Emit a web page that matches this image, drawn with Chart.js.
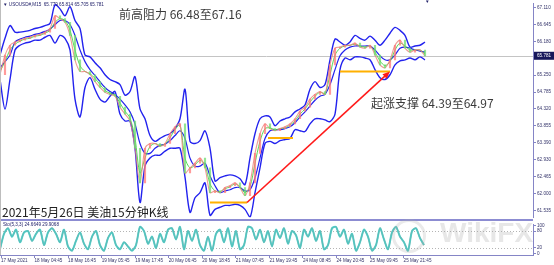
<!DOCTYPE html>
<html>
<head>
<meta charset="utf-8">
<script src="https://cdn.jsdelivr.net/npm/chart.js@4.4.1/dist/chart.umd.min.js"></script>
<style>
html, body { margin: 0; padding: 0; background: #fff; }
#wrap { position: relative; width: 554px; height: 265px; overflow: hidden; }
#main { position: absolute; left: 0; top: 0; }
#sub { position: absolute; left: 0; top: 221px; }
.note { position: absolute; font-family: "Noto Sans CJK SC", "Noto Sans", sans-serif; font-size: 12px; line-height: 1; color: #3a3a3a; white-space: nowrap; }
.mark { position: absolute; font-family: "Liberation Sans", sans-serif; font-weight: bold; color: rgba(170,170,170,0.28); white-space: nowrap; line-height: 1; }
</style>
</head>
<body>
<div id="wrap">
  <canvas id="main" width="554" height="221"></canvas>
  <canvas id="sub" width="554" height="44"></canvas>
  <div class="note" style="left:119px;top:8px;">前高阻力 66.48至67.16</div>
  <div class="note" style="left:371px;top:97px;">起涨支撑 64.39至64.97</div>
  <div class="note" style="left:2px;top:206px;color:#222;">2021年5月26日 美油15分钟K线</div>
  <div class="mark" style="left:392px;top:219px;width:28px;height:28px;border:3px solid rgba(170,170,170,0.25);border-radius:50%;"></div>
  <div class="mark" style="left:440px;top:219px;font-size:28px;">WikiFX</div>
</div>
<script>
// M15 oil, sampled every ~7 bars
const upper = [65.80,66.26,66.61,66.43,66.43,66.45,66.48,66.53,66.56,66.61,
  66.67,67.18,67.07,66.88,67.13,66.75,66.53,65.80,65.75,65.59,
  65.45,65.26,65.13,65.07,64.99,64.70,64.80,65.21,64.32,64.05,
  63.59,63.43,63.51,63.59,63.64,63.78,64.05,64.86,63.43,63.37,
  63.45,63.72,63.24,62.34,62.43,62.48,62.51,62.48,62.40,62.24,
  62.97,63.64,64.05,64.13,64.10,63.86,63.99,64.05,64.10,64.24,
  64.32,64.43,64.86,65.07,64.91,64.99,65.67,66.24,66.16,66.07,
  66.16,66.34,66.26,66.21,66.32,66.21,66.07,66.21,66.40,66.56,
  66.48,66.34,66.02,66.05,66.07,66.16];
const middle = [65.45,65.62,65.80,66.16,66.24,66.29,66.32,66.37,66.40,66.45,
  66.51,66.64,66.75,66.75,66.64,66.34,65.94,65.62,65.40,65.24,
  65.07,64.91,64.80,64.72,64.59,64.43,64.24,63.91,63.37,63.10,
  63.10,63.24,63.32,63.35,63.45,63.59,63.72,63.51,62.97,62.75,
  62.75,62.83,62.48,62.21,62.02,62.07,62.10,62.16,62.16,62.07,
  62.10,62.43,62.97,63.51,63.72,63.75,63.75,63.78,63.83,63.94,
  64.10,64.24,64.40,64.56,64.67,64.72,64.99,65.40,65.78,65.94,
  66.02,66.05,66.05,66.05,66.05,65.94,65.78,65.67,65.67,65.80,
  65.99,66.02,65.99,65.94,65.91,65.88];
const lower = [65.13,64.32,65.13,65.94,66.07,66.13,66.16,66.21,66.21,66.29,
  66.34,66.13,66.34,66.26,65.94,64.59,64.10,64.91,65.18,64.86,
  64.59,64.51,64.67,64.80,64.18,63.99,63.99,63.24,61.75,62.75,
  62.97,63.05,63.05,63.16,63.24,63.24,63.24,62.45,61.48,61.88,
  62.02,62.29,61.40,61.56,61.62,61.67,61.67,61.70,61.67,61.56,
  61.34,62.02,62.70,63.37,63.43,63.37,63.45,63.48,63.51,63.75,
  63.72,63.70,63.91,64.05,64.05,64.02,63.97,64.18,65.40,65.72,
  65.67,65.75,65.75,65.72,65.67,65.40,65.18,65.13,65.26,65.53,
  65.64,65.67,65.72,65.67,65.75,65.67];
const close = [65.26,65.80,66.07,66.16,66.21,66.26,66.29,66.34,66.37,66.43,
  66.53,66.88,66.80,66.70,66.34,65.67,65.35,65.35,65.26,65.07,
  64.91,64.78,64.72,64.67,64.37,64.18,63.99,63.24,62.29,63.24,
  63.37,63.37,63.29,63.37,63.64,63.83,63.91,62.56,62.70,62.83,
  62.97,62.70,62.02,62.07,62.02,62.16,62.21,62.29,62.16,61.94,
  62.29,63.10,63.64,63.91,63.78,63.72,63.78,63.83,63.91,64.05,
  64.26,64.37,64.59,64.72,64.80,64.72,65.53,65.99,66.02,66.07,
  66.07,66.13,66.02,65.99,66.07,65.80,65.53,65.45,65.67,66.07,
  66.21,65.99,65.88,65.94,65.94,65.78];
const fastMa = [65.35,65.62,65.94,66.10,66.18,66.24,66.26,66.32,66.34,66.40,
  66.48,66.70,66.80,66.75,66.48,65.94,65.51,65.35,65.29,65.16,
  64.99,64.83,64.75,64.70,64.48,64.26,64.07,63.51,62.56,62.97,
  63.29,63.37,63.32,63.35,63.53,63.75,63.88,62.97,62.70,62.78,
  62.91,62.78,62.26,62.07,62.05,62.13,62.18,62.26,62.18,62.02,
  62.18,62.83,63.43,63.78,63.80,63.75,63.78,63.80,63.88,63.99,
  64.18,64.32,64.51,64.67,64.78,64.75,65.26,65.80,65.99,66.05,
  66.07,66.10,66.05,66.02,66.05,65.88,65.64,65.51,65.62,65.94,
  66.13,66.05,65.94,65.94,65.94,65.83];
const stochK = [15,70,90,60,85,40,75,80,45,70,
  85,30,75,90,70,40,85,25,10,45,
  75,35,15,60,80,30,10,55,75,30,
  15,40,25,10,30,95,80,35,60,20,
  70,40,85,90,50,95,15,80,45,85,
  30,10,60,10,70,85,40,90,25,80,
  15,30,95,90,50,85,40,80,25,85,
  55,90,35,80,65,20,85,60,90,45,
  80,15,30,90,95,60,85,35,70,10,
  40,85,60,10,30,90,50,15,75,95,
  60,40,10,80,90,55,30];

const priceTicks = [67.110, 66.645, 66.180, 65.715, 65.250, 64.785, 64.320, 63.855, 63.390, 62.930, 62.465, 62.000, 61.535];
const timeLabels = ['17 May 2021','18 May 04:45','18 May 16:45','19 May 05:45','19 May 17:45','20 May 06:45',
  '20 May 18:45','21 May 07:45','21 May 19:45','24 May 08:45','24 May 20:45','25 May 09:45','25 May 21:45'];
const stochTicks = [100, 80, 20, 0];
const lastPrice = 65.781;

// annotations, in sample / price units
const supports = [[42, 49.4, 61.75], [53.6, 58.6, 63.52], [68, 78, 65.35]];
const arrow = [[49.4, 61.75], [78, 65.35]];

const X_MAX = 106.6;       // samples across the plot
const STOCH_STEP = 0.8;    // stoch sampled a bit finer
const T0 = 0.2, T_STEP = 6.71;
const AXIS = '#8585c6';
const LBL = '#34346a';
const tiny = { family: 'Liberation Sans', size: 4.6 };

const pts = arr => arr.map((v, i) => ({ x: i, y: v }));
const line = (arr, color, w) => ({ type: 'line', data: pts(arr), borderColor: color, borderWidth: w, pointRadius: 0, tension: 0.3 });

const mainOverlay = {
  id: 'mainOverlay',
  beforeDatasetsDraw(chart) {
    const { ctx, chartArea: a, scales: { y } } = chart;
    const py = Math.round(y.getPixelForValue(lastPrice)) + 0.5;
    ctx.save();
    ctx.strokeStyle = '#c4c4c4';
    ctx.lineWidth = 1;
    ctx.beginPath(); ctx.moveTo(a.left, py); ctx.lineTo(a.right, py); ctx.stroke();
    ctx.restore();
  },
  afterDatasetsDraw(chart) {
    const { ctx, chartArea: a, scales: { x, y } } = chart;
    ctx.save();
    ctx.beginPath(); ctx.rect(a.left, a.top, a.right - a.left, a.bottom - a.top); ctx.clip();
    ctx.strokeStyle = '#ffb000';
    ctx.lineWidth = 2;
    supports.forEach(s => {
      const py = y.getPixelForValue(s[2]);
      ctx.beginPath(); ctx.moveTo(x.getPixelForValue(s[0]), py); ctx.lineTo(x.getPixelForValue(s[1]), py); ctx.stroke();
    });
    const x0 = x.getPixelForValue(arrow[0][0]), y0 = y.getPixelForValue(arrow[0][1]);
    const x1 = x.getPixelForValue(arrow[1][0]), y1 = y.getPixelForValue(arrow[1][1]);
    const ang = Math.atan2(y1 - y0, x1 - x0);
    ctx.strokeStyle = '#ff1a1a';
    ctx.fillStyle = '#ff1a1a';
    ctx.lineWidth = 1.6;
    ctx.beginPath(); ctx.moveTo(x0, y0); ctx.lineTo(x1 - 4 * Math.cos(ang), y1 - 4 * Math.sin(ang)); ctx.stroke();
    ctx.beginPath();
    ctx.moveTo(x1, y1);
    ctx.lineTo(x1 - 8 * Math.cos(ang - 0.4), y1 - 8 * Math.sin(ang - 0.4));
    ctx.lineTo(x1 - 8 * Math.cos(ang + 0.4), y1 - 8 * Math.sin(ang + 0.4));
    ctx.closePath(); ctx.fill();
    ctx.restore();
  },
  afterDraw(chart) {
    const { ctx, chartArea: a, scales: { y } } = chart;
    ctx.save();
    ctx.fillStyle = '#8c8cd2';
    ctx.fillRect(0, 219, a.right, 2);
    ctx.fillStyle = '#bdbdbd';
    ctx.fillRect(0, 0, 1, 221);
    const py = y.getPixelForValue(lastPrice);
    ctx.fillStyle = '#16165a';
    ctx.fillRect(a.right + 1, py - 4, 20, 8);
    ctx.fillStyle = '#fff';
    ctx.font = '4.6px "Liberation Sans"';
    ctx.textBaseline = 'middle';
    ctx.fillText(lastPrice.toFixed(3), a.right + 4, py);
    ctx.fillStyle = '#22226a';
    ctx.fillText('▼ USOUSD#,M15  65.779 65.814 65.705 65.781', 3, 5);
    ctx.fillText('▼', 425, 2);
    ctx.restore();
  }
};

new Chart(document.getElementById('main'), {
  type: 'line',
  data: {
    datasets: [
      {
        type: 'bar',
        data: close.map((c, i) => ({ x: i, y: [i ? close[i - 1] : c, c] })),
        backgroundColor: c => (c.raw && c.raw.y[1] >= c.raw.y[0]) ? 'rgba(255,120,120,0.75)' : 'rgba(110,220,110,0.75)',
        barThickness: 1.5
      },
      line(close, 'rgba(232,130,120,0.8)', 1.1),
      line(fastMa, 'rgba(60,210,60,0.85)', 1),
      line(upper, '#2222ee', 1.4),
      line(middle, '#2222ee', 1.2),
      line(lower, '#2222ee', 1.4)
    ]
  },
  options: {
    responsive: false,
    animation: false,
    events: [],
    layout: { padding: { top: 3, bottom: 1, left: 0, right: 0 } },
    plugins: { legend: { display: false }, tooltip: { enabled: false } },
    scales: {
      x: { type: 'linear', min: 0, max: X_MAX, display: false, offset: false },
      y: {
        position: 'right', min: 61.345, max: 67.21,
        afterFit: s => { s.width = 21; },
        afterBuildTicks: s => { s.ticks = priceTicks.map(v => ({ value: v })); },
        ticks: { font: tiny, color: LBL, padding: 1, callback: v => v.toFixed(3) },
        grid: { drawOnChartArea: false, tickLength: 3, color: AXIS },
        border: { color: AXIS }
      }
    }
  },
  plugins: [mainOverlay]
});

const subOverlay = {
  id: 'subOverlay',
  beforeDatasetsDraw(chart) {
    const { ctx, chartArea: a, scales: { y } } = chart;
    ctx.save();
    ctx.strokeStyle = '#b4b4b4';
    ctx.lineWidth = 1;
    ctx.setLineDash([1, 2]);
    [80, 20].forEach(v => {
      const py = Math.round(y.getPixelForValue(v)) + 0.5;
      ctx.beginPath(); ctx.moveTo(a.left, py); ctx.lineTo(a.right, py); ctx.stroke();
    });
    ctx.restore();
  },
  afterDraw(chart) {
    const { ctx } = chart;
    ctx.save();
    ctx.fillStyle = '#bdbdbd';
    ctx.fillRect(0, 0, 1, 34);
    ctx.fillStyle = '#22226a';
    ctx.font = '4.6px "Liberation Sans"';
    ctx.textBaseline = 'middle';
    ctx.fillText('Sto(5,3,3) 24.6649 29.9068', 3, 4);
    ctx.restore();
  }
};

const stochPts = stochK.map((v, j) => ({ x: j * STOCH_STEP, y: v }));

new Chart(document.getElementById('sub'), {
  type: 'line',
  data: {
    datasets: [
      { data: stochPts, borderColor: 'rgba(60,214,208,0.85)', borderWidth: 2, pointRadius: 0, tension: 0.25 },
      { data: stochPts, borderColor: '#e24a4a', borderWidth: 1.3, pointRadius: 0, tension: 0.25 }
    ]
  },
  options: {
    responsive: false,
    animation: false,
    events: [],
    layout: { padding: { top: 1, bottom: 0, left: 0, right: 0 } },
    plugins: { legend: { display: false }, tooltip: { enabled: false } },
    scales: {
      x: {
        type: 'linear', min: 0, max: X_MAX, offset: false,
        afterFit: s => { s.height = 10; },
        afterBuildTicks: s => { s.ticks = timeLabels.map((_, k) => ({ value: T0 + k * T_STEP })); },
        ticks: { autoSkip: false, maxRotation: 0, align: 'start', padding: 0, font: tiny, color: LBL,
                 callback: (v, i) => timeLabels[i] },
        grid: { drawOnChartArea: false, tickLength: 3, color: AXIS },
        border: { color: AXIS }
      },
      y: {
        position: 'right', min: -5.5, max: 102.5,
        afterFit: s => { s.width = 21; },
        afterBuildTicks: s => { s.ticks = stochTicks.map(v => ({ value: v })); },
        ticks: { font: tiny, color: LBL, padding: 1 },
        grid: { drawOnChartArea: false, tickLength: 3, color: AXIS },
        border: { color: AXIS }
      }
    }
  },
  plugins: [subOverlay]
});
</script>
</body>
</html>
